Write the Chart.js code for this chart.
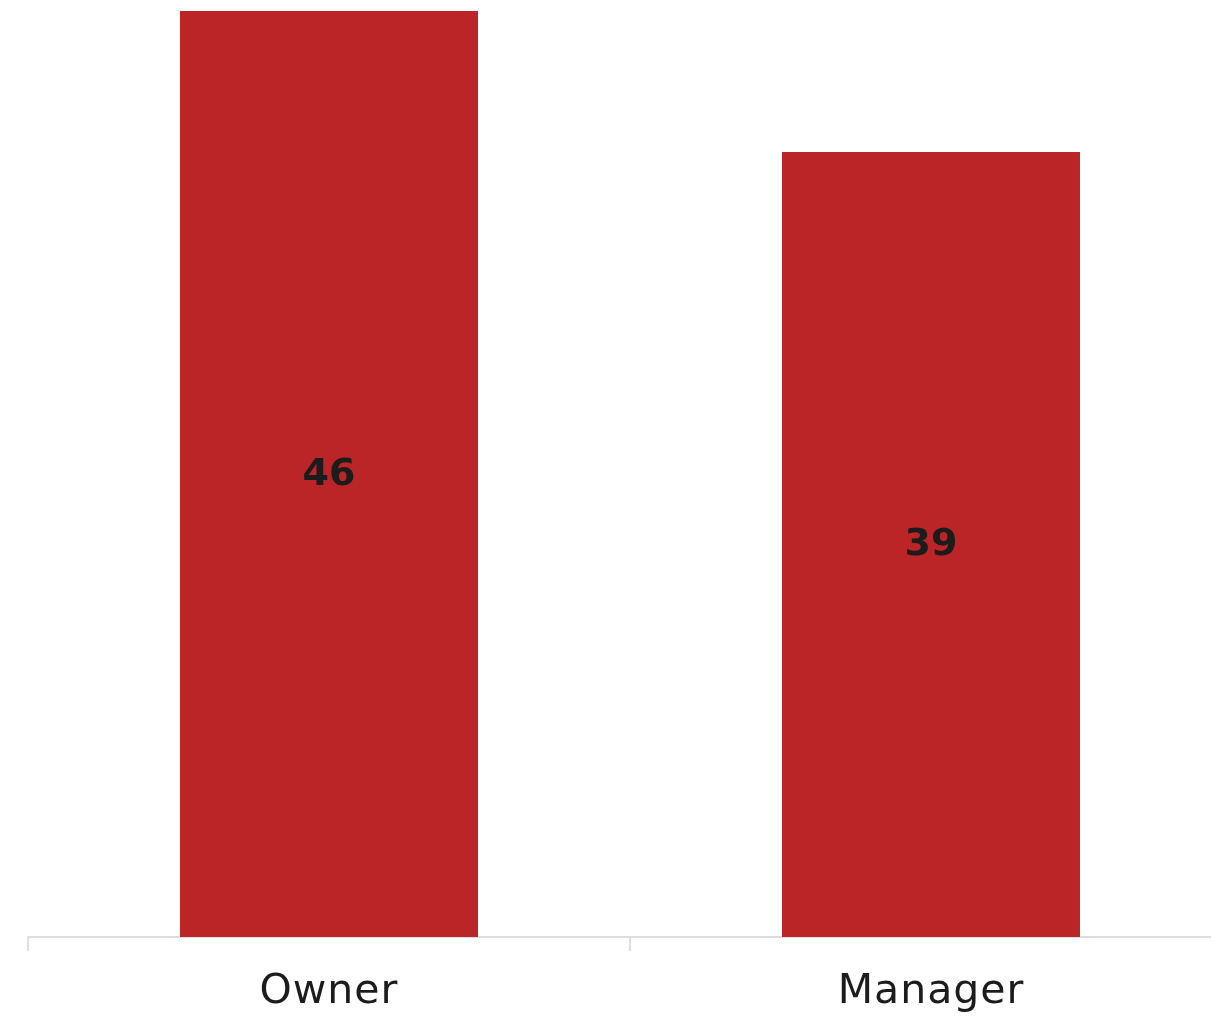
<!DOCTYPE html>
<html>
<head>
<meta charset="utf-8">
<script src="https://cdn.jsdelivr.net/npm/chart.js@4/dist/chart.umd.min.js"></script>
<style>
  html, body { margin: 0; padding: 0; background: #ffffff; overflow: hidden; }
  #wrap { position: relative; width: 1232px; height: 1017px; }
</style>
</head>
<body>
<div id="wrap"><canvas id="chart"></canvas></div>
<script>
// Role categories and their values
const categories = ['Owner', 'Manager'];
const values = [46, 39];
const yMax = 46;

const barRed = '#bb2528';

// Slightly wider letter spacing for the axis labels
const spacing = {
  id: 'spacing',
  beforeDraw(chart) {
    chart.ctx.letterSpacing = '1px';
  }
};

// Writes each bar's value in the middle of the bar
const centerLabels = {
  id: 'centerLabels',
  afterDatasetsDraw(chart) {
    const ctx = chart.ctx;
    const meta = chart.getDatasetMeta(0);
    ctx.save();
    ctx.letterSpacing = '0px';
    ctx.font = 'bold 38px "DejaVu Sans", sans-serif';
    ctx.fillStyle = '#1c1c1c';
    ctx.textAlign = 'center';
    ctx.textBaseline = 'middle';
    meta.data.forEach((bar, i) => {
      const p = bar.getProps(['x', 'y', 'base'], true);
      ctx.fillText(String(values[i]), p.x, (p.y + p.base) / 2 + 1);
    });
    ctx.restore();
  }
};

new Chart(document.getElementById('chart'), {
  type: 'bar',
  data: {
    labels: categories,
    datasets: [{
      data: values,
      backgroundColor: barRed,
      borderWidth: 0,
      barPercentage: 0.495,
      categoryPercentage: 1
    }]
  },
  options: {
    responsive: true,
    maintainAspectRatio: false,
    animation: false,
    layout: { padding: { top: 11, left: 28, right: 0, bottom: 0 } },
    plugins: {
      legend: { display: false },
      tooltip: { enabled: false }
    },
    scales: {
      x: {
        afterFit(scale) { scale.height = 80; },
        grid: {
          display: true,
          drawOnChartArea: false,
          drawTicks: true,
          tickLength: 14,
          color: '#dddddd',
          lineWidth: 2,
          offset: true
        },
        border: { display: true, color: '#dddddd', width: 2 },
        ticks: {
          color: '#1c1c1c',
          padding: 17,
          font: { family: '"DejaVu Sans", sans-serif', size: 41 }
        }
      },
      y: {
        display: false,
        min: 0,
        max: yMax
      }
    }
  },
  plugins: [spacing, centerLabels]
});
</script>
</body>
</html>
